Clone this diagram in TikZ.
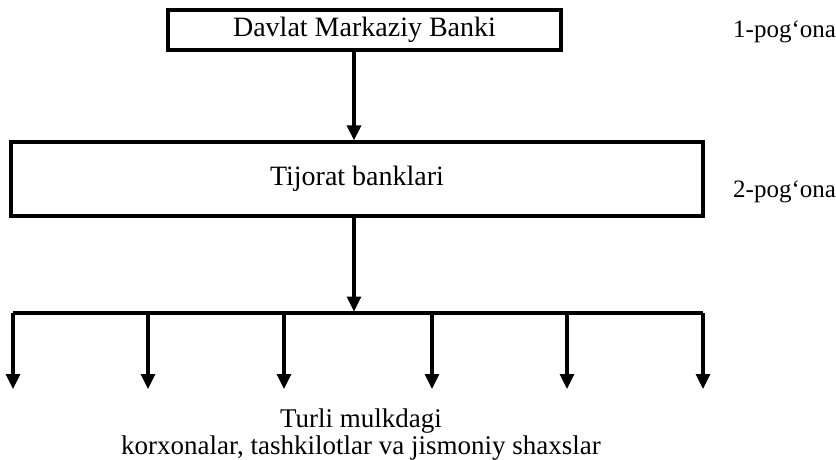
\documentclass[tikz,border=0pt]{standalone}
\usepackage{fontspec}
\setmainfont{Liberation Serif}
\usetikzlibrary{arrows.meta, positioning}

\begin{document}
\begin{tikzpicture}[x=1pt, y=-1pt]
            \tikzstyle{bloc} = [draw, line width=3.2pt, inner sep=0pt, font=\fontsize{28}{32}\selectfont]
            \tikzstyle{sag}  = [->, line width=3.2pt, >={Triangle[width=14pt, length=15pt]}]
            \tikzstyle{pog}  = [font=\fontsize{25}{28}\selectfont, anchor=base west, inner sep=0pt]

            \useasboundingbox (0,0) rectangle (836,460);

            % Blocurile
            \node[bloc, minimum width=393pt, minimum height=40pt] (markaz) at (364.5, 30) {Davlat Markaziy Banki};
            \node[bloc, minimum width=692pt, minimum height=74pt] (tijorat) at (357, 179) {Tijorat banklari};
            \node[pog] (pog1) at (733, 38) {1-pog‘ona};
            \node[pog] (pog2) at (733, 197) {2-pog‘ona};

            % Sageata principala si bara
            \coordinate (ax) at (354, 0);
            \coordinate (barL) at (13, 313);
            \coordinate (barR) at (703, 313);
            \draw[sag] (markaz.south -| ax) -- (tijorat.north -| ax);
            \draw[sag, shorten >=1.5pt] (tijorat.south -| ax) -- (ax |- barL);
            \draw[line width=3.2pt] (barL) -- (barR);

            % Sagetile in jos
            \foreach \x [count=\c] in {13, 148, 284, 432, 567, 703} {
                \coordinate (sus\c) at (\x, 313);
                \coordinate (jos\c) at (\x, 389);
                \draw[sag] (sus\c) -- (jos\c);
            }

            \node[align=center, inner sep=0pt, font=\fontsize{27}{27}\selectfont] (firme) at (361, 435)
                {Turli mulkdagi\\korxonalar, tashkilotlar va jismoniy shaxslar};

\end{tikzpicture}
\end{document}
